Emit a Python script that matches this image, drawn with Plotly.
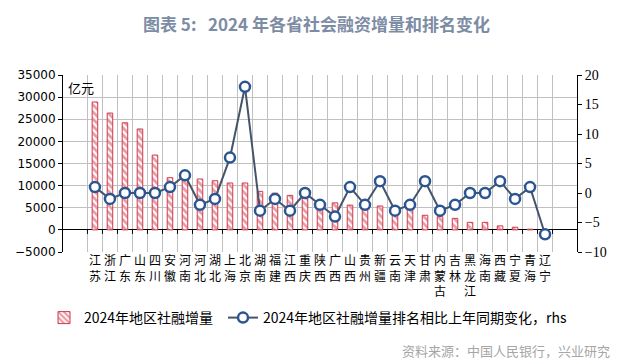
import plotly.graph_objects as go

provinces = ["江苏", "浙江", "广东", "山东", "四川", "安徽", "河南", "河北", "湖北", "上海",
             "北京", "湖南", "福建", "江西", "重庆", "陕西", "广西", "山西", "贵州", "新疆",
             "云南", "天津", "甘肃", "内蒙古", "吉林", "黑龙江", "海南", "西藏", "宁夏", "青海", "辽宁"]
financing_increment = [28900, 26400, 24200, 22800, 16900, 11800, 11700, 11500, 11100, 10600,
                       10600, 8700, 8300, 7800, 7500, 6700, 6100, 5600, 5400, 5400,
                       4600, 5000, 3300, 3000, 2600, 1700, 1700, 900, 600, 150, 50]
rank_change = [1, -1, 0, 0, 0, 1, 3, -2, -1, 6,
               18, -3, -1, -3, 0, -2, -4, 1, -2, 2,
               -3, -2, 2, -3, -2, 0, 0, 2, -1, 1, -7]

labels = ["<br>".join(list(p)) for p in provinces]

BAR_RED = "#d0394c"
LINE_COL = "#44546a"
MARK_COL = "#2b5592"
GRID = "#c0c0c0"
CJK = "Noto Sans CJK SC"

# the page body adds an 8px offset; the figure is sized to fill the rest of the window
W, H = 617, 355
PL, PR, PT, PB = 55, 569, 67, 244  # plot area edges in figure pixels

fig = go.Figure()
fig.add_trace(go.Bar(
    x=labels, y=financing_increment, name="2024年地区社融增量",
    width=0.37, legend="legend",
    marker=dict(color="white", line=dict(color=BAR_RED, width=1),
                pattern=dict(shape="\\", fgcolor=BAR_RED, bgcolor="white", size=5, solidity=0.55)),
))
fig.add_trace(go.Scatter(
    x=labels, y=rank_change, name="2024年地区社融增量排名相比上年同期变化，rhs",
    yaxis="y2", mode="lines+markers", legend="legend2",
    line=dict(color=LINE_COL, width=2),
    marker=dict(symbol="circle", size=10, color="white", line=dict(color=MARK_COL, width=2.5)),
))

# small tick marks on the zero line at category boundaries
shapes = []
for i in range(len(provinces) + 1):
    shapes.append(dict(type="line", xref="x", yref="y", x0=i - 0.5, x1=i - 0.5,
                       ysizemode="pixel", yanchor=0, y0=0, y1=-4,
                       line=dict(color="black", width=1)))

legend_common = dict(orientation="h", xref="container", yref="container", y=1 - 310 / H,
                     xanchor="left", yanchor="middle",
                     font=dict(family=CJK, size=14, color="black"), bgcolor="rgba(0,0,0,0)")

fig.update_layout(
    width=W, height=H,
    margin=dict(l=PL, r=W - PR, t=PT, b=H - PB, autoexpand=False),
    paper_bgcolor="white", plot_bgcolor="white",
    showlegend=True,
    title=dict(text="<b>图表 5:\u00a0\u00a0\u00a02024 年各省社会融资增量和排名变化</b>",
               x=0.5, xanchor="center", y=1 - 17 / H, yanchor="middle",
               font=dict(family=CJK, size=17, color="#7d8ca5")),
    xaxis=dict(type="category", tickson="boundaries", showgrid=True, gridcolor=GRID, gridwidth=1,
               ticks="", showline=False, tickfont=dict(family=CJK, size=12, color="black"),
               tickangle=0),
    yaxis=dict(range=[-5000, 35000], dtick=5000, tickformat="d", showgrid=True, gridcolor=GRID,
               gridwidth=1, zeroline=True, zerolinecolor="black", zerolinewidth=1,
               showline=True, linecolor="black", linewidth=1, ticks="outside", ticklen=4,
               tickcolor="black", tickfont=dict(family="DejaVu Sans", size=12, color="black")),
    yaxis2=dict(range=[-10, 20], dtick=5, overlaying="y", side="right", showgrid=False,
                zeroline=False, showline=True, linecolor="black", linewidth=1,
                ticks="outside", ticklen=4, tickcolor="black",
                tickfont=dict(family="Liberation Serif", size=14, color="black")),
    legend=dict(legend_common, x=36 / W),
    legend2=dict(legend_common, x=215 / W),
    shapes=shapes,
    annotations=[
        dict(text="亿元", xref="paper", yref="paper", x=0, y=0.929, xanchor="left", yanchor="middle",
             xshift=3, showarrow=False, font=dict(family=CJK, size=13, color="black")),
        dict(text="资料来源：中国人民银行，兴业研究", xref="paper", yref="paper",
             x=(604 - PL) / (PR - PL), y=(PB - 342) / (PB - PT), xanchor="right", yanchor="middle",
             showarrow=False, font=dict(family=CJK, size=13, color="#a6a6a6")),
    ],
)

fig.write_html("out.html")
